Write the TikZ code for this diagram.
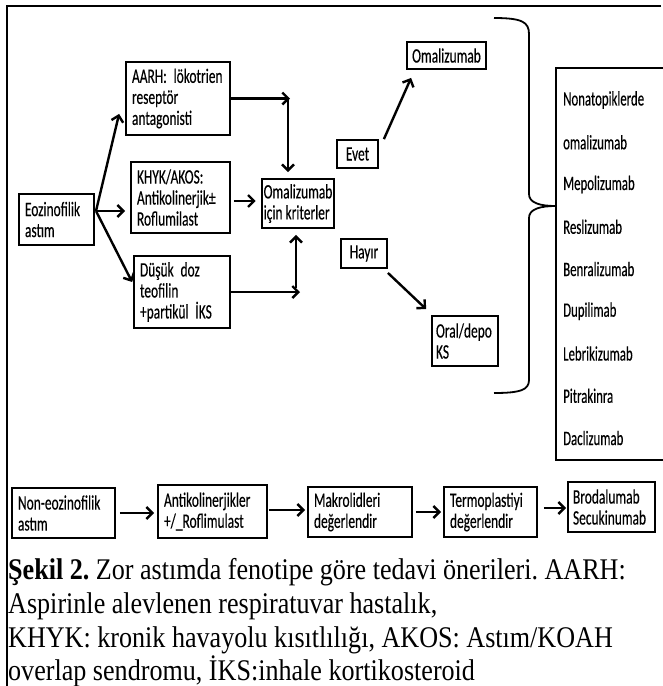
\documentclass[tikz,border=0pt]{standalone}
\usepackage{fontspec}
\setmainfont{Liberation Serif}
\newfontfamily\diagfont[FakeStretch=0.655,FakeBold=0.3]{Carlito}
\newfontfamily\drugfont[FakeStretch=0.625,FakeBold=0.3]{Carlito}
\newfontfamily\capfont[FakeStretch=0.87]{Liberation Serif}
\usetikzlibrary{arrows.meta,calc}
\begin{document}
\begin{tikzpicture}[x=1pt,y=-1pt,
  dfont/.style={font=\diagfont\frenchspacing\fontsize{20.5}{21}\selectfont},
  box/.style={draw, line width=1.8pt, align=left, inner xsep=2pt, inner ysep=1pt, dfont},
  lbox/.style={box, inner xsep=6pt, execute at begin node={\hyphenpenalty=10000\relax}},
  arr/.style={line width=2.4pt, -{Straight Barb[length=6pt,width=12pt,line width=2.4pt]}},
  drug/.style={font=\drugfont\fontsize{20.5}{21}\selectfont, anchor=west, inner sep=0pt},
  captext/.style={font=\capfont\frenchspacing\fontsize{30}{34.5}\selectfont, anchor=base west, inner sep=0pt}]
\useasboundingbox (0,0) rectangle (662,686);
% frame
\draw[line width=1.4pt] (661,6) -- (7,6) -- (7,686);
% eosinophilic branch
\node[lbox, text width=63pt, minimum height=51pt] (eoz) at (56.5,219.5) {Eozinofilik\\astım};
\node[lbox, text width=92pt, minimum height=73pt] (aarh) at (178,98.5) {AARH: lökotrien\\reseptör\\antagonisti};
\node[lbox, text width=87pt, minimum height=71pt] (khyk) at (180.5,197.5) {KHYK/AKOS:\\Antikolinerjik±\\Roflumilast};
\node[lbox, text width=84pt, minimum height=72pt] (dusuk) at (182,292) {Düşük doz\\teofilin\\+partikül İKS};
\node[box, minimum width=70pt, minimum height=49pt] (krit) at (298,203.5) {Omalizumab\\için kriterler};
\node[box, minimum width=41pt, minimum height=28pt] (evet) at (357.5,154) {Evet};
\node[box, minimum width=79pt, minimum height=27pt] (oma) at (446.5,55.5) {Omalizumab};
\node[box, minimum width=46pt, minimum height=29pt] (hayir) at (364,253.5) {Hayır};
\node[lbox, inner xsep=4pt, text width=58pt, minimum height=50pt] (oral) at (465,341) {Oral/depo\\KS};
% arrows
\coordinate (fan) at (96,211);
\coordinate (kin) at ($(khyk.west)+(-5,0)$);
\draw[arr] (fan) -- ($(aarh.south west)+(-6,-22)$);
\draw[arr] (fan) -- (fan -| kin);
\draw[arr] (fan) -- ($(dusuk.west)+(-1,-10)$);
\draw[arr] (aarh.east) -- ($(aarh.east -| krit.north)+(-8,0)$);
\draw[arr] ($(aarh.east -| krit.north)+(-10,0)$) -- ($(krit.north)+(-10,-6)$);
\draw[arr] ($(khyk.east)+(3,3.5)$) -- ($(krit.west)+(-5,-2.5)$);
\draw[arr] (dusuk.east) -- ($(dusuk.east -| krit.south)+(2,0)$);
\draw[arr] ($(dusuk.east -| krit.south)+(-2,-4)$) -- ($(krit.south)+(-2,6)$);
\draw[arr] ($(evet.north east)+(5,0)$) -- ($(oma.south west)+(5,8)$);
\draw[arr] ($(hayir.south east)+(0,4)$) -- ($(oral.north west)+(-5,-6)$);
% brace
\draw[line width=1.8pt] (494,18) .. controls (522,18) and (529,22) .. (529,34) -- (529,194)
  .. controls (529,203) and (540,206) .. (556,206)
  .. controls (540,206) and (529,209) .. (529,218) -- (529,380)
  .. controls (529,390) and (520,393) .. (494,393);
% drug list
\draw[line width=1.8pt] (672,68) -- (556,68) -- (556,460) -- (672,460);
\foreach \t [count=\i] in {Nonatopiklerde,omalizumab,Mepolizumab,Reslizumab,Benralizumab,Dupilimab,Lebrikizumab,Pitrakinra,Daclizumab}
  \node[drug] (d\i) at (563,{100+42.25*(\i-1)}) {\t};
% non-eosinophilic row
\node[lbox, text width=91pt, minimum height=50pt] (non) at (63.5,513) {Non-eozinofilik\\astım};
\node[lbox, text width=97pt, minimum height=53pt] (anti) at (212.5,511.5) {Antikolinerjikler\\+/\_Roflimulast};
\node[lbox, text width=92pt, minimum height=50pt] (makro) at (360,512) {Makrolidleri\\değerlendir};
\node[lbox, text width=81pt, minimum height=50pt] (termo) at (490.5,512) {Termoplastiyi\\değerlendir};
\node[lbox, inner xsep=5pt, text width=77pt, minimum height=50pt] (brod) at (611.5,507) {Brodalumab\\Secukinumab};
\draw[arr] ($(non.east)+(4,0)$) -- ($(anti.west)+(-3,1.5)$);
\draw[arr] ($(anti.east)+(1,-1.5)$) -- ($(makro.west)+(-2,-2)$);
\draw[arr] ($(makro.east)+(3,0)$) -- ($(termo.west)+(-2,0)$);
\draw[arr] ($(termo.east)+(6,-4)$) -- ($(brod.west)+(-1,1)$);
% caption
\node[captext] (c1) at (8,579) {\textbf{Şekil 2.} Zor astımda fenotipe göre tedavi önerileri. AARH:};
\node[captext] (c2) at (8,613) {Aspirinle alevlenen respiratuvar hastalık,};
\node[captext] (c3) at (8,647) {KHYK: kronik havayolu kısıtlılığı, AKOS: Astım/KOAH};
\node[captext] (c4) at (8,680) {overlap sendromu, İKS:inhale kortikosteroid};
\end{tikzpicture}
\end{document}
